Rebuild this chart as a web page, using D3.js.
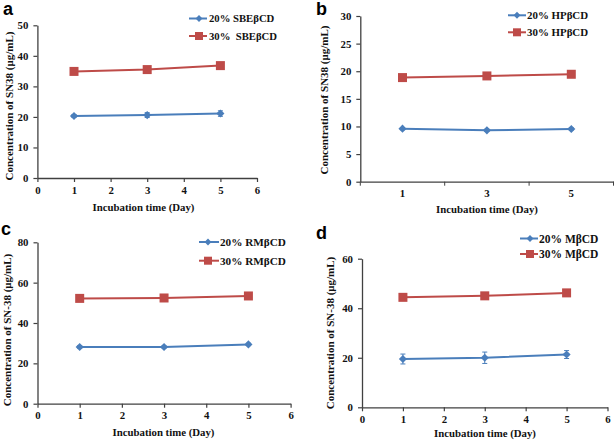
<!DOCTYPE html>
<html><head><meta charset="utf-8">
<script src="https://cdn.jsdelivr.net/npm/d3@7"></script>
<style>body{margin:0;background:#fff}svg{display:block}</style>
</head><body>
<svg id="c" width="614" height="440"></svg>
<script>
// ---- data ----
const days = [1, 3, 5];
const sbe20 = [20.3, 20.6, 21.1], sbe20Err = [0.5, 0.8, 0.9];
const sbe30 = [34.9, 35.5, 36.8], sbe30Err = [0.5, 0.5, 0.6];
const hp20 = [9.6, 9.3, 9.55], hp20Err = [0.2, 0.2, 0.2];
const hp30 = [18.85, 19.15, 19.45], hp30Err = [0.3, 0.3, 0.3];
const rm20 = [28.1, 28.1, 29.4], rm20Err = [0.6, 0.5, 0.6];
const rm30 = [52.2, 52.4, 53.4], rm30Err = [1.5, 1.3, 1.4];
const m20 = [19.5, 20.0, 21.3], m20Err = [2.0, 2.3, 1.6];
const m30 = [44.4, 45.0, 46.2], m30Err = [0.7, 0.7, 0.7];
const panelLetters = ["a", "b", "c", "d"];
const legendA = ["20% SBE\u03B2CD", "30%  SBE\u03B2CD"];
const legendB = ["20% HP\u03B2CD", "30% HP\u03B2CD"];
const legendC = ["20% RM\u03B2CD", "30% RM\u03B2CD"];
const legendD = ["20% M\u03B2CD", "30% M\u03B2CD"];
const yTitles = ["Concentration of SN38 (\u03BCg/mL)", "Concentration of SN38 (\u03BCg/mL)",
                 "Concentration of SN-38 (\u03BCg/mL)", "Concentration of SN-38 (\u03BCg/mL)"];
const xTitle = "Incubation time (Day)";
const xTicksLinear = [0, 1, 2, 3, 4, 5, 6];
const yTicksA = [0, 10, 20, 30, 40, 50];
const yTicksB = [0, 5, 10, 15, 20, 25, 30];
const yTicksC = [0, 20, 40, 60, 80];
const yTicksD = [0, 20, 40, 60];

const BLUE = "#4a7ebb", RED = "#be4b48", AX = "#404040";
const serif = "'Liberation Serif','Times New Roman',serif";
const svg = d3.select("#c");

const panels = [
  {letter: panelLetters[0], lx: 3, ly: 15, x0: 37.4, x1: 257, yTop: 25.3, yBot: 178, yMax: 50, yTicks: yTicksA,
   band: false, s20: sbe20, e20: sbe20Err, s30: sbe30, e30: sbe30Err, leg: legendA, legFs: 10.7,
   legX: 189, legX2: 207, legM: 199, legT: 209, legY: [18.5, 36], yt: [9, 106], xt: [143.5, 211]},
  {letter: panelLetters[1], lx: 316, ly: 15, x0: 360.3, x1: 613.5, yTop: 16, yBot: 181.7, yMax: 30, yTicks: yTicksB,
   band: true, s20: hp20, e20: hp20Err, s30: hp30, e30: hp30Err, leg: legendB, legFs: 10.9,
   legX: 508, legX2: 526, legM: 517, legT: 527, legY: [15.3, 32.3], yt: [324, 100], xt: [487, 213]},
  {letter: panelLetters[2], lx: 1, ly: 235, x0: 37.5, x1: 290.6, yTop: 242.3, yBot: 403.7, yMax: 80, yTicks: yTicksC,
   band: false, s20: rm20, e20: rm20Err, s30: rm30, e30: rm30Err, leg: legendC, legFs: 11.2,
   legX: 199, legX2: 219, legM: 208, legT: 220, legY: [242, 260.7], yt: [7, 330], xt: [163.5, 436]},
  {letter: panelLetters[3], lx: 316, ly: 239, x0: 362, x1: 607.5, yTop: 258.7, yBot: 407.3, yMax: 60, yTicks: yTicksD,
   band: false, s20: m20, e20: m20Err, s30: m30, e30: m30Err, leg: legendD, legFs: 11.5,
   legX: 520, legX2: 538, legM: 530, legT: 539, legY: [238.5, 254], yt: [330, 333], xt: [485, 436.5]}
];

const diamond = d3.symbol().type(d3.symbolDiamond2 || d3.symbolDiamond).size(42);
const fmt = d3.format("d");

panels.forEach((p, pi) => {
  const g = svg.append("g");
  const y = d3.scaleLinear().domain([0, p.yMax]).range([p.yBot, p.yTop]);
  let x, xAxis;
  if (p.band) {
    x = d3.scaleBand().domain(days.map(String)).range([p.x0, p.x1]);
    xAxis = d3.axisBottom(x).tickSize(0).tickPadding(8);
  } else {
    x = d3.scaleLinear().domain([0, 6]).range([p.x0, p.x1]);
    xAxis = d3.axisBottom(x).tickValues(xTicksLinear).tickFormat(fmt).tickSize(4).tickSizeOuter(0).tickPadding(4);
  }
  const xp = d => p.band ? x(String(d)) + x.bandwidth() / 2 : x(d);

  // x axis
  const gx = g.append("g").attr("transform", `translate(0,${p.yBot})`).call(xAxis);
  if (p.band) {
    const bounds = [0, 1, 2, 3].map(i => p.x0 + i * x.step());
    gx.selectAll(".bt").data(bounds).enter().append("line")
      .attr("x1", d => d).attr("x2", d => d).attr("y1", 0).attr("y2", 4).attr("stroke", AX);
  }
  // y axis
  const gy = g.append("g").attr("transform", `translate(${p.x0},0)`)
    .call(d3.axisLeft(y).tickValues(p.yTicks).tickFormat(fmt).tickSize(4).tickSizeOuter(0).tickPadding(5));
  [gx, gy].forEach(a => {
    a.select(".domain").attr("stroke", AX).attr("stroke-width", 1.3);
    a.selectAll(".tick line").attr("stroke", AX).attr("stroke-width", 1.2);
    a.selectAll("text").attr("font-family", serif).attr("font-weight", "bold")
      .attr("font-size", 10.8).attr("fill", "#111");
  });
  gx.selectAll("line").attr("stroke", AX);

  // series
  const series = [
    {v: p.s30, e: p.e30, c: RED, sq: true},
    {v: p.s20, e: p.e20, c: BLUE, sq: false}
  ];
  series.forEach(s => {
    const pts = days.map((d, i) => ({x: xp(d), y: y(s.v[i]), lo: y(s.v[i] - s.e[i]), hi: y(s.v[i] + s.e[i])}));
    g.append("path").datum(pts)
      .attr("d", d3.line().x(d => d.x).y(d => d.y))
      .attr("fill", "none").attr("stroke", s.c).attr("stroke-width", 2);
    const eb = g.append("g").attr("stroke", s.c).attr("stroke-width", 1);
    eb.selectAll("line.v").data(pts).enter().append("line")
      .attr("x1", d => d.x).attr("x2", d => d.x).attr("y1", d => d.lo).attr("y2", d => d.hi);
    eb.selectAll("line.t").data(pts.flatMap(d => [[d.x, d.lo], [d.x, d.hi]])).enter().append("line")
      .attr("x1", d => d[0] - 2.5).attr("x2", d => d[0] + 2.5).attr("y1", d => d[1]).attr("y2", d => d[1]);
    if (s.sq) {
      g.selectAll(null).data(pts).enter().append("rect")
        .attr("x", d => d.x - 4.5).attr("y", d => d.y - 4.5).attr("width", 9).attr("height", 9)
        .attr("fill", s.c);
    } else {
      g.selectAll(null).data(pts).enter().append("path")
        .attr("d", diamond).attr("transform", d => `translate(${d.x},${d.y})`).attr("fill", s.c);
    }
  });

  // legend
  [BLUE, RED].forEach((c, i) => {
    const ly = p.legY[i];
    g.append("line").attr("x1", p.legX).attr("x2", p.legX2).attr("y1", ly).attr("y2", ly)
      .attr("stroke", c).attr("stroke-width", 2);
    if (i === 1) {
      g.append("rect").attr("x", p.legM - 4).attr("y", ly - 4).attr("width", 8).attr("height", 8).attr("fill", c);
    } else {
      g.append("path").attr("d", d3.symbol().type(d3.symbolDiamond2 || d3.symbolDiamond).size(30))
        .attr("transform", `translate(${p.legM},${ly})`).attr("fill", c);
    }
    g.append("text").attr("x", p.legT).attr("y", ly).attr("dy", "0.35em")
      .attr("font-family", serif).attr("font-weight", "bold").attr("font-size", p.legFs)
      .attr("fill", "#111").attr("xml:space", "preserve").style("white-space", "pre").text(p.leg[i]);
  });

  // titles
  g.append("text").attr("transform", `translate(${p.yt[0]},${p.yt[1]}) rotate(-90)`)
    .attr("text-anchor", "middle").attr("dy", "0.35em")
    .attr("font-family", serif).attr("font-weight", "bold").attr("font-size", 11).attr("fill", "#111")
    .text(yTitles[pi]);
  g.append("text").attr("x", p.xt[0]).attr("y", p.xt[1])
    .attr("text-anchor", "middle")
    .attr("font-family", serif).attr("font-weight", "bold").attr("font-size", 10.8).attr("fill", "#111")
    .text(xTitle);
  g.append("text").attr("x", p.lx).attr("y", p.ly)
    .attr("font-family", "'Liberation Sans',Arial,sans-serif").attr("font-weight", "bold")
    .attr("font-size", 18).attr("fill", "#000").text(p.letter);
});
</script>
</body></html>
